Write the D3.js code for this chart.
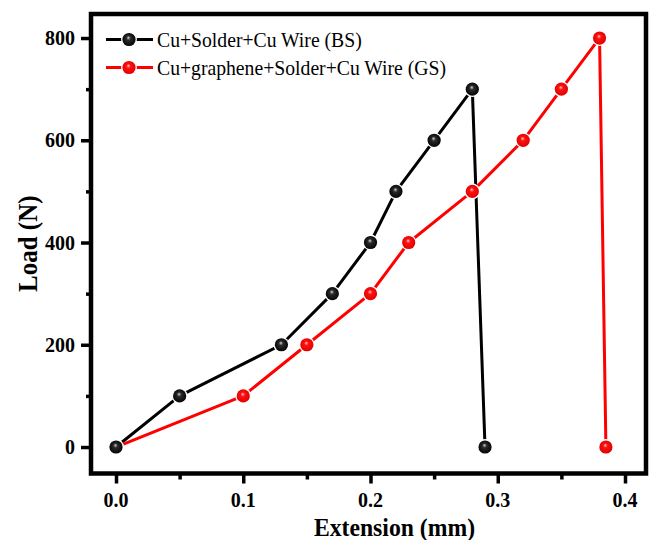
<!DOCTYPE html>
<html>
<head>
<meta charset="utf-8">
<script src="https://cdn.jsdelivr.net/npm/d3@7/dist/d3.min.js"></script>
<style>
  html, body { margin: 0; padding: 0; background: #fff; }
  svg { display: block; }
  text { font-family: "Liberation Serif", "Times New Roman", serif; fill: #000; }
</style>
</head>
<body>
<svg id="chart" width="652" height="540"></svg>
<script>
// Load–extension data for the two joint types
const bsExtension = [0, 0.05, 0.13, 0.17, 0.20, 0.22, 0.25, 0.28, 0.29];
const bsLoad      = [0, 100, 200, 300, 400, 500, 600, 700, 0];
const gsExtension = [0, 0.10, 0.15, 0.20, 0.23, 0.28, 0.32, 0.35, 0.38, 0.385];
const gsLoad      = [0, 100, 200, 300, 400, 500, 600, 700, 800, 0];

const seriesNames = ["Cu+Solder+Cu Wire (BS)", "Cu+graphene+Solder+Cu Wire (GS)"];
const seriesColors = ["#000000", "#ff0000"];

const xMajorTicks = [0, 0.1, 0.2, 0.3, 0.4];
const xMinorTicks = [0.05, 0.15, 0.25, 0.35];
const xTickLabels = ["0.0", "0.1", "0.2", "0.3", "0.4"];
const yMajorTicks = [0, 200, 400, 600, 800];
const yMinorTicks = [100, 300, 500, 700];
const yTickLabels = ["0", "200", "400", "600", "800"];

const xTitle = "Extension (mm)";
const yTitle = "Load (N)";

const svg = d3.select("#chart");
const plot = { left: 91, right: 646, top: 14, bottom: 473.5 };
const textStretch = 1.1;
const markerR = 6.6;

const x = d3.scaleLinear().domain([-0.01965, 0.4165]).range([plot.left, plot.right]);
const y = d3.scaleLinear().domain([-51.8, 847]).range([plot.bottom, plot.top]);

// sphere-like marker shading
const defs = svg.append("defs");
function sphereGradient(id, hi, mid, dark) {
  const g = defs.append("radialGradient").attr("id", id)
    .attr("cx", "50%").attr("cy", "50%").attr("r", "55%")
    .attr("fx", "45%").attr("fy", "35%");
  g.append("stop").attr("offset", "0%").attr("stop-color", hi);
  g.append("stop").attr("offset", "30%").attr("stop-color", mid);
  g.append("stop").attr("offset", "100%").attr("stop-color", dark);
}
sphereGradient("ball0", "#d0d0d0", "#2a2a2a", "#000000");
sphereGradient("ball1", "#ffc8c8", "#ff1010", "#dd0000");

// helper: text with slight vertical stretch
function label(parent, tx, ty, str, opts) {
  const g = parent.append("g")
    .attr("transform", `translate(${tx},${ty}) ${opts.rotate ? "rotate(-90)" : ""} scale(1,${textStretch})`);
  g.append("text")
    .attr("text-anchor", opts.anchor || "start")
    .attr("font-size", opts.size)
    .attr("font-weight", opts.weight || "normal")
    .attr("fill", opts.fill || "#000")
    .text(str);
}

// tick marks
const tickStyle = sel => {
  sel.select(".domain").remove();
  sel.selectAll("line").attr("stroke", "#000").attr("stroke-width", 3.5);
};
svg.append("g").attr("transform", `translate(0,${plot.bottom})`)
  .call(d3.axisBottom(x).tickValues(xMajorTicks).tickSize(10).tickFormat("")).call(tickStyle);
svg.append("g").attr("transform", `translate(0,${plot.bottom})`)
  .call(d3.axisBottom(x).tickValues(xMinorTicks).tickSize(6).tickFormat("")).call(tickStyle);
svg.append("g").attr("transform", `translate(${plot.left},0)`)
  .call(d3.axisLeft(y).tickValues(yMajorTicks).tickSize(10).tickFormat("")).call(tickStyle);
svg.append("g").attr("transform", `translate(${plot.left},0)`)
  .call(d3.axisLeft(y).tickValues(yMinorTicks).tickSize(5).tickFormat("")).call(tickStyle);

// tick labels
xMajorTicks.forEach((v, i) => label(svg, x(v), 507, xTickLabels[i], { anchor: "middle", size: 20, weight: "bold" }));
yMajorTicks.forEach((v, i) => label(svg, 75, y(v) + 7, yTickLabels[i], { anchor: "end", size: 20, weight: "bold" }));

// axis titles
label(svg, (plot.left + plot.right) / 2 + 26, 536, xTitle, { anchor: "middle", size: 23.7, weight: "bold" });
label(svg, 37, (plot.top + plot.bottom) / 2, yTitle, { anchor: "middle", size: 25, weight: "bold", rotate: true });

// series points
const series = [
  { ext: bsExtension, load: bsLoad },
  { ext: gsExtension, load: gsLoad }
].map(s => s.ext.map((e, k) => [e, s.load[k]]));
const line = d3.line().x(d => x(d[0])).y(d => y(d[1]));

// connecting lines
series.forEach((pts, i) => {
  svg.append("path").datum(pts)
    .attr("d", line)
    .attr("fill", "none")
    .attr("stroke", seriesColors[i])
    .attr("stroke-width", 3)
    .attr("stroke-linejoin", "round");
});

// markers with a thin white gap around them; BS drawn on top
[1, 0].forEach(i => {
  const g = svg.append("g");
  g.selectAll("circle.halo").data(series[i]).join("circle")
    .attr("class", "halo")
    .attr("cx", d => x(d[0])).attr("cy", d => y(d[1]))
    .attr("r", markerR + 1.3).attr("fill", "#fff");
  g.selectAll("circle.ball").data(series[i]).join("circle")
    .attr("class", "ball")
    .attr("cx", d => x(d[0])).attr("cy", d => y(d[1]))
    .attr("r", markerR).attr("fill", `url(#ball${i})`);
});

// legend
const legendRows = [39.5, 67.5];
seriesNames.forEach((name, i) => {
  const ly = legendRows[i];
  svg.append("line")
    .attr("x1", 106).attr("x2", 153).attr("y1", ly).attr("y2", ly)
    .attr("stroke", seriesColors[i]).attr("stroke-width", 3);
  svg.append("circle").attr("cx", 129).attr("cy", ly).attr("r", markerR + 1.3).attr("fill", "#fff");
  svg.append("circle").attr("cx", 129).attr("cy", ly).attr("r", markerR)
    .attr("fill", `url(#ball${i})`);
  label(svg, 157, ly + 7, name, { anchor: "start", size: 19.7, fill: "#1a1a1a" });
});

// frame
svg.append("rect")
  .attr("x", plot.left).attr("y", plot.top)
  .attr("width", plot.right - plot.left).attr("height", plot.bottom - plot.top)
  .attr("fill", "none").attr("stroke", "#000").attr("stroke-width", 4.5);
</script>
</body>
</html>
